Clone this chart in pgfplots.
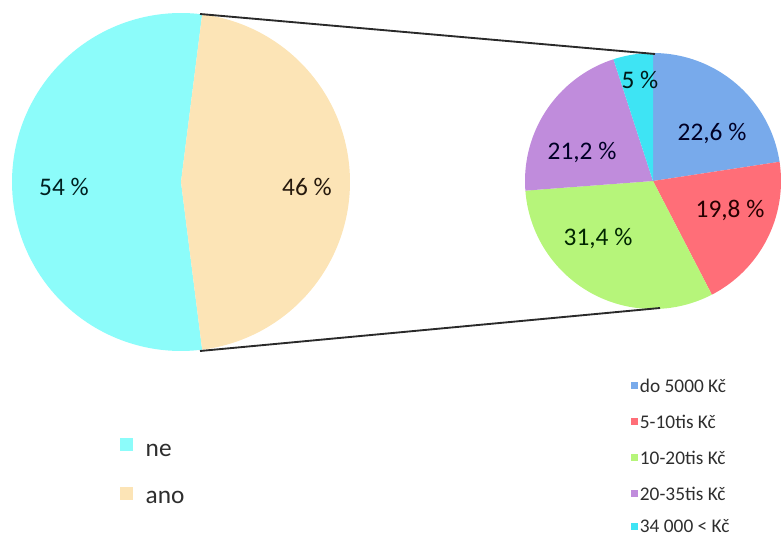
\documentclass[border=0pt]{standalone}
\usepackage{fontspec}
\setmainfont{Carlito}
\usepackage{pgfplots}
\pgfplotsset{compat=1.18}
\definecolor{bigcyan}{HTML}{8CFCFA}
\definecolor{beige}{HTML}{FCE4B6}
\definecolor{sblue}{HTML}{78AAEB}
\definecolor{sred}{HTML}{FF6E78}
\definecolor{sgreen}{HTML}{B6F57A}
\definecolor{spurple}{HTML}{C08CDC}
\definecolor{scyan}{HTML}{3EE4F4}
\definecolor{linec}{HTML}{2A2A2A}
\definecolor{legtext}{HTML}{2E2E2E}
% data (percent)
\def\vne{54}\def\vano{46}
\def\vA{22.6}\def\vB{19.8}\def\vC{31.4}\def\vD{21.2}\def\vE{5}
% angles
\pgfmathsetmacro\hano{\vano*3.6/2}
\pgfmathsetmacro\neS{\hano}
\pgfmathsetmacro\neE{360-\hano}
\pgfmathsetmacro\aS{90}
\pgfmathsetmacro\aE{\aS-\vA*3.6}
\pgfmathsetmacro\bE{\aE-\vB*3.6}
\pgfmathsetmacro\cE{\bE-\vC*3.6}
\pgfmathsetmacro\dE{\cE-\vD*3.6}
\pgfmathsetmacro\eE{\dE-\vE*3.6}
\begin{document}
\begin{tikzpicture}
\begin{axis}[hide axis, scale only axis, width=585.75pt, height=402pt,
  xmin=0, xmax=781, ymin=0, ymax=536, clip=false]
% big pie: centre (181,354), r=169
\addplot[fill=bigcyan, draw=none, domain=\neS:\neE, samples=120, variable=\t]
  ({181+169*cos(t)},{354+169*sin(t)}) -- (181,354) -- cycle;
\addplot[fill=beige, draw=none, domain=-\hano:\hano, samples=120, variable=\t]
  ({181+169*cos(t)},{354+169*sin(t)}) -- (181,354) -- cycle;
% small pie: centre (653,355), r=128
\addplot[fill=sblue, draw=none, domain=\aE:\aS, samples=60, variable=\t]
  ({653+128*cos(t)},{355+128*sin(t)}) -- (653,355) -- cycle;
\addplot[fill=sred, draw=none, domain=\bE:\aE, samples=60, variable=\t]
  ({653+128*cos(t)},{355+128*sin(t)}) -- (653,355) -- cycle;
\addplot[fill=sgreen, draw=none, domain=\cE:\bE, samples=60, variable=\t]
  ({653+128*cos(t)},{355+128*sin(t)}) -- (653,355) -- cycle;
\addplot[fill=spurple, draw=none, domain=\dE:\cE, samples=60, variable=\t]
  ({653+128*cos(t)},{355+128*sin(t)}) -- (653,355) -- cycle;
\addplot[fill=scyan, draw=none, domain=\eE:\dE, samples=30, variable=\t]
  ({653+128*cos(t)},{355+128*sin(t)}) -- (653,355) -- cycle;
% connector lines
\draw[line width=1.4pt, color=linec] (200,522) -- (655,482);
\draw[line width=1.4pt, color=linec] (200,185) -- (660,228);
% labels
\node[font=\fontsize{19}{22}\selectfont, text=black!75!teal] at (64,349) {54 \%};
\node[font=\fontsize{19}{22}\selectfont, text=black!80!brown] at (307,349) {46 \%};
\node[font=\fontsize{19}{22}\selectfont, text=black!80!teal] at (640,456) {5 \%};
\node[font=\fontsize{19}{22}\selectfont, text=black!85!blue] at (712,403) {22,6 \%};
\node[font=\fontsize{19}{22}\selectfont, text=black!85!blue] at (582,384) {21,2 \%};
\node[font=\fontsize{19}{22}\selectfont, text=black!85!red] at (730,326) {19,8 \%};
\node[font=\fontsize{19}{22}\selectfont, text=black!85!green] at (598,298) {31,4 \%};
% left legend
\fill[bigcyan] (120,85) rectangle (133,98);
\node[anchor=west, font=\fontsize{19}{22}\selectfont, text=legtext] at (141,86) {ne};
\fill[beige] (120,36) rectangle (133,49);
\node[anchor=west, font=\fontsize{19}{22}\selectfont, text=legtext] at (141,39) {ano};
% right legend
\fill[sblue] (631,147) rectangle (638,154);
\node[anchor=west, inner sep=2pt, font=\fontsize{14.5}{16}\selectfont, text=legtext] at (637,150) {do 5000 Kč};
\fill[sred] (631,111) rectangle (638,118);
\node[anchor=west, inner sep=2pt, font=\fontsize{14.5}{16}\selectfont, text=legtext] at (637,114) {5-10tis Kč};
\fill[sgreen] (631,75) rectangle (638,82);
\node[anchor=west, inner sep=2pt, font=\fontsize{14.5}{16}\selectfont, text=legtext] at (637,78) {10-20tis Kč};
\fill[spurple] (631,39) rectangle (638,46);
\node[anchor=west, inner sep=2pt, font=\fontsize{14.5}{16}\selectfont, text=legtext] at (637,42) {20-35tis Kč};
\fill[scyan] (631,6) rectangle (638,13);
\node[anchor=west, inner sep=2pt, font=\fontsize{14.5}{16}\selectfont, text=legtext] at (637,10) {34 000 < Kč};
\end{axis}
\pgfresetboundingbox
\useasboundingbox (current axis.south west) rectangle (current axis.north east);
\end{tikzpicture}
\end{document}
